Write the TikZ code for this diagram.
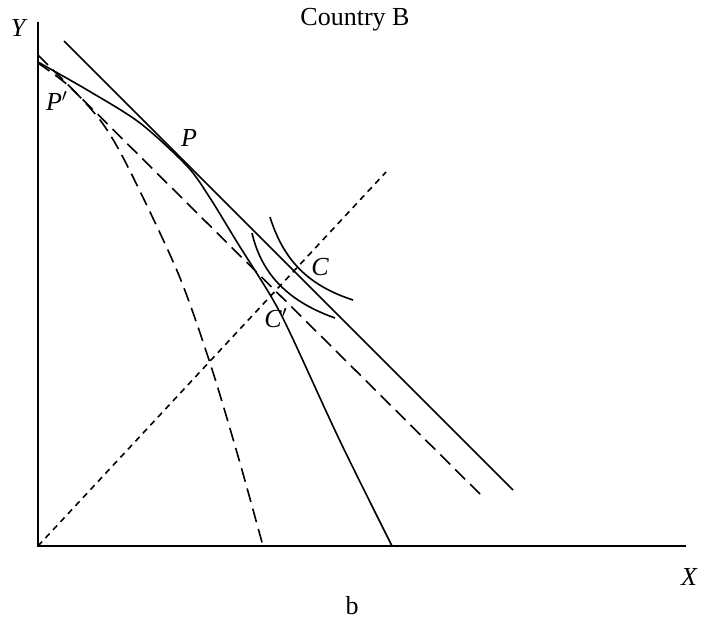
\documentclass[tikz,border=0pt]{standalone}
\usepackage{fontspec}
\setmainfont{Liberation Serif}
\usetikzlibrary{positioning}

\begin{document}
\begin{tikzpicture}[x=0.5pt, y=-0.5pt,
    axis/.style={line width=1pt},
    curve/.style={line width=0.8pt},
    longdash/.style={line width=0.8pt, dash pattern=on 7pt off 3.5pt},
    shortdash/.style={line width=0.8pt, dash pattern=on 3pt off 2.5pt},
    lbl/.style={font=\fontsize{13}{15}\selectfont\itshape, inner sep=0pt},
    title/.style={font=\fontsize{13}{15}\selectfont, inner sep=0pt}
  ]
  \useasboundingbox (0,0) rectangle (707,629);

  \coordinate (origin) at (38,546);
  \coordinate (ytop) at (38,22);
  \coordinate (xend) at (686,546);

  % axes
  \draw[axis] (ytop) -- (origin) -- (xend);
  \node[lbl] (ylab) at (18,28) {Y};
  \node[lbl] (xlab) at (689,577) {X};
  \node[title] (head) at (355,20) {Country B};
  \node[title] (sub) at (352,606) {b};

  % ray from the origin
  \coordinate (rayend) at (386,172);
  \draw[shortdash] (origin) -- (rayend);

  % price lines
  \coordinate (budA) at (64,41);
  \coordinate (budB) at (513,490);
  \draw[curve] (budA) -- (budB);
  \coordinate (budC) at (38,55);
  \coordinate (budD) at (484,498);
  \draw[longdash] (budC) -- (budD);

  % production frontiers
  \draw[curve] plot[smooth, tension=0.5] coordinates {(38,62) (89,91) (140,123) (187,166) (210,198) (237,242) (272,298) (292,337) (340,441) (392,546)};
  \draw[longdash] plot[smooth, tension=0.5] coordinates {(38,63) (70,87) (103,124) (130,171) (178,273) (210,363) (238,456) (263,546)};

  % indifference curves
  \draw[curve] (270,217) .. controls (284,262) and (310,286) .. (353,300);
  \draw[curve] (252,233) .. controls (262,276) and (290,302) .. (335,318);

  \node[lbl] (pp) at (57,101) {P$'$};
  \node[lbl] (p) at (189,138) {P};
  \node[lbl] (c) at (320,267) {C};
  \node[lbl] (cp) at (276,318) {C$'$};
\end{tikzpicture}
\end{document}
